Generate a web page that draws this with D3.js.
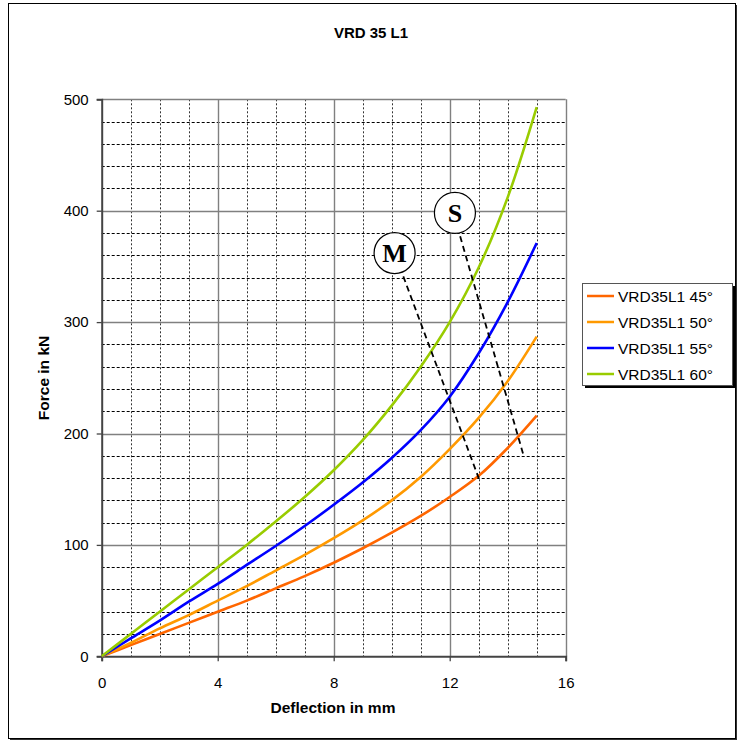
<!DOCTYPE html>
<html>
<head>
<meta charset="utf-8">
<script src="https://cdn.jsdelivr.net/npm/d3@7"></script>
<style>
  body { margin: 0; background: #fff; }
  svg { font-family: Arial, "Liberation Sans", sans-serif; }
</style>
</head>
<body>
<svg id="chart" width="742" height="741"></svg>
<script>
// deflection values (mm)
const deflection = [0, 1, 2, 3, 4, 5, 6, 7, 8, 9, 10, 11, 12, 13, 14, 15];
// force values (kN) per series
const force45 = [0, 10, 20, 30, 40, 50, 61, 72, 84, 97, 111, 126, 143, 162, 187, 216];
const force50 = [0, 12, 25, 37, 50, 63, 77, 91, 106, 122, 140, 161, 186, 214, 247, 287];
const force55 = [0, 16, 32, 49, 65, 82, 99, 117, 136, 156, 178, 203, 233, 272, 318, 371];
const force60 = [0, 20, 40, 60, 80, 100, 121, 143, 167, 194, 225, 260, 300, 349, 412, 493];
const seriesNames = ["VRD35L1 45°", "VRD35L1 50°", "VRD35L1 55°", "VRD35L1 60°"];
const seriesColors = ["#ff6600", "#ff9900", "#0000ff", "#99cc00"];
const xTicks = [0, 4, 8, 12, 16];
const yTicks = [0, 100, 200, 300, 400, 500];

// markers M and S with their dashed guide lines (data coords)
const markers = [
  { label: "M", cx: 10.1, cy: 362, line: [[10.4, 341], [13.0, 160]] },
  { label: "S", cx: 12.18, cy: 398, line: [[12.36, 377], [14.54, 181]] }
];

const svg = d3.select("#chart");

// outer frame with shadow
svg.append("rect").attr("x", 10).attr("y", 5).attr("width", 727).attr("height", 735).attr("fill", "#333");
svg.append("rect").attr("x", 8.5).attr("y", 3.5).attr("width", 727).attr("height", 735)
  .attr("fill", "#fff").attr("stroke", "#000").attr("stroke-width", 1);

const x = d3.scaleLinear().domain([0, 16]).range([101.7, 565.7]);
const y = d3.scaleLinear().domain([0, 500]).range([656.3, 99.3]);

const g = svg.append("g");

// minor vertical grid (every 1 mm)
g.selectAll(".vminor").data(d3.range(1, 16).filter(d => d % 4 !== 0)).enter()
  .append("line")
  .attr("x1", d => Math.round(x(d)) + 0.5).attr("x2", d => Math.round(x(d)) + 0.5)
  .attr("y1", y(500)).attr("y2", y(0))
  .attr("stroke", "#333").attr("stroke-width", 1).attr("stroke-dasharray", "2,2");

// minor horizontal grid (every 20 kN)
g.selectAll(".hminor").data(d3.range(20, 500, 20).filter(d => d % 100 !== 0)).enter()
  .append("line")
  .attr("y1", d => Math.round(y(d)) + 0.5).attr("y2", d => Math.round(y(d)) + 0.5)
  .attr("x1", x(0)).attr("x2", x(16))
  .attr("stroke", "#000").attr("stroke-width", 1).attr("stroke-dasharray", "3,2");

// major grid
g.selectAll(".vmajor").data([4, 8, 12, 16]).enter().append("line")
  .attr("x1", d => Math.round(x(d)) + 0.5).attr("x2", d => Math.round(x(d)) + 0.5)
  .attr("y1", y(500)).attr("y2", y(0))
  .attr("stroke", "#808080").attr("stroke-width", 1.4);
g.selectAll(".hmajor").data([100, 200, 300, 400, 500]).enter().append("line")
  .attr("y1", d => Math.round(y(d)) + 0.5).attr("y2", d => Math.round(y(d)) + 0.5)
  .attr("x1", x(0)).attr("x2", x(16))
  .attr("stroke", "#808080").attr("stroke-width", 1.4);

// axes
const xAxis = d3.axisBottom(x).tickValues(xTicks).tickSize(5).tickPadding(16);
const yAxis = d3.axisLeft(y).tickValues(yTicks).tickSize(5).tickPadding(8);

const gx = svg.append("g").attr("transform", `translate(0,${y(0)})`).call(xAxis);
const gy = svg.append("g").attr("transform", `translate(${x(0)},0)`).call(yAxis);
[gx, gy].forEach(a => {
  a.attr("font-size", 15).attr("font-family", "Arial, 'Liberation Sans', sans-serif");
  a.select(".domain").attr("stroke", "#444").attr("stroke-width", 2);
  a.selectAll(".tick line").attr("stroke", "#444").attr("stroke-width", 1.3);
  a.selectAll("text").attr("fill", "#000");
});

// series lines
const allSeries = [force45, force50, force55, force60];
const line = d3.line()
  .x((d, i) => x(deflection[i]))
  .y(d => y(d))
  .curve(d3.curveCatmullRom.alpha(0.5));

allSeries.forEach((s, k) => {
  svg.append("path").datum(s)
    .attr("fill", "none")
    .attr("stroke", seriesColors[k])
    .attr("stroke-width", 2.6)
    .attr("d", line);
});

// markers
markers.forEach(m => {
  svg.append("line")
    .attr("x1", x(m.line[0][0])).attr("y1", y(m.line[0][1]))
    .attr("x2", x(m.line[1][0])).attr("y2", y(m.line[1][1]))
    .attr("stroke", "#000").attr("stroke-width", 1.8).attr("stroke-dasharray", "6,4");
  svg.append("circle")
    .attr("cx", x(m.cx)).attr("cy", y(m.cy)).attr("r", 20.5)
    .attr("fill", "#fff").attr("stroke", "#000").attr("stroke-width", 1.2);
  svg.append("text")
    .attr("x", x(m.cx)).attr("y", y(m.cy) + 9)
    .attr("text-anchor", "middle")
    .attr("font-family", "'Liberation Serif', 'DejaVu Serif', serif")
    .attr("font-weight", "bold").attr("font-size", 26)
    .text(m.label);
});

// title and axis titles
svg.append("text").attr("x", 371).attr("y", 38).attr("text-anchor", "middle")
  .attr("font-weight", "bold").attr("font-size", 15).text("VRD 35 L1");
svg.append("text").attr("x", 333).attr("y", 713).attr("text-anchor", "middle")
  .attr("font-weight", "bold").attr("font-size", 15.5).text("Deflection in mm");
svg.append("text").attr("transform", "translate(49,378) rotate(-90)").attr("text-anchor", "middle")
  .attr("font-weight", "bold").attr("font-size", 15.5).text("Force in kN");

// legend
const lg = svg.append("g");
lg.append("rect").attr("x", 585).attr("y", 286).attr("width", 150).attr("height", 102).attr("fill", "#000");
lg.append("rect").attr("x", 582.5).attr("y", 283.5).attr("width", 150).attr("height", 102)
  .attr("fill", "#fff").attr("stroke", "#555").attr("stroke-width", 1);
seriesNames.forEach((name, k) => {
  const ly = 296 + k * 26;
  lg.append("line").attr("x1", 587).attr("x2", 614).attr("y1", ly).attr("y2", ly)
    .attr("stroke", seriesColors[k]).attr("stroke-width", 2.5);
  lg.append("text").attr("x", 618).attr("y", ly + 5.5).attr("font-size", 15.5).text(name);
});
</script>
</body>
</html>
